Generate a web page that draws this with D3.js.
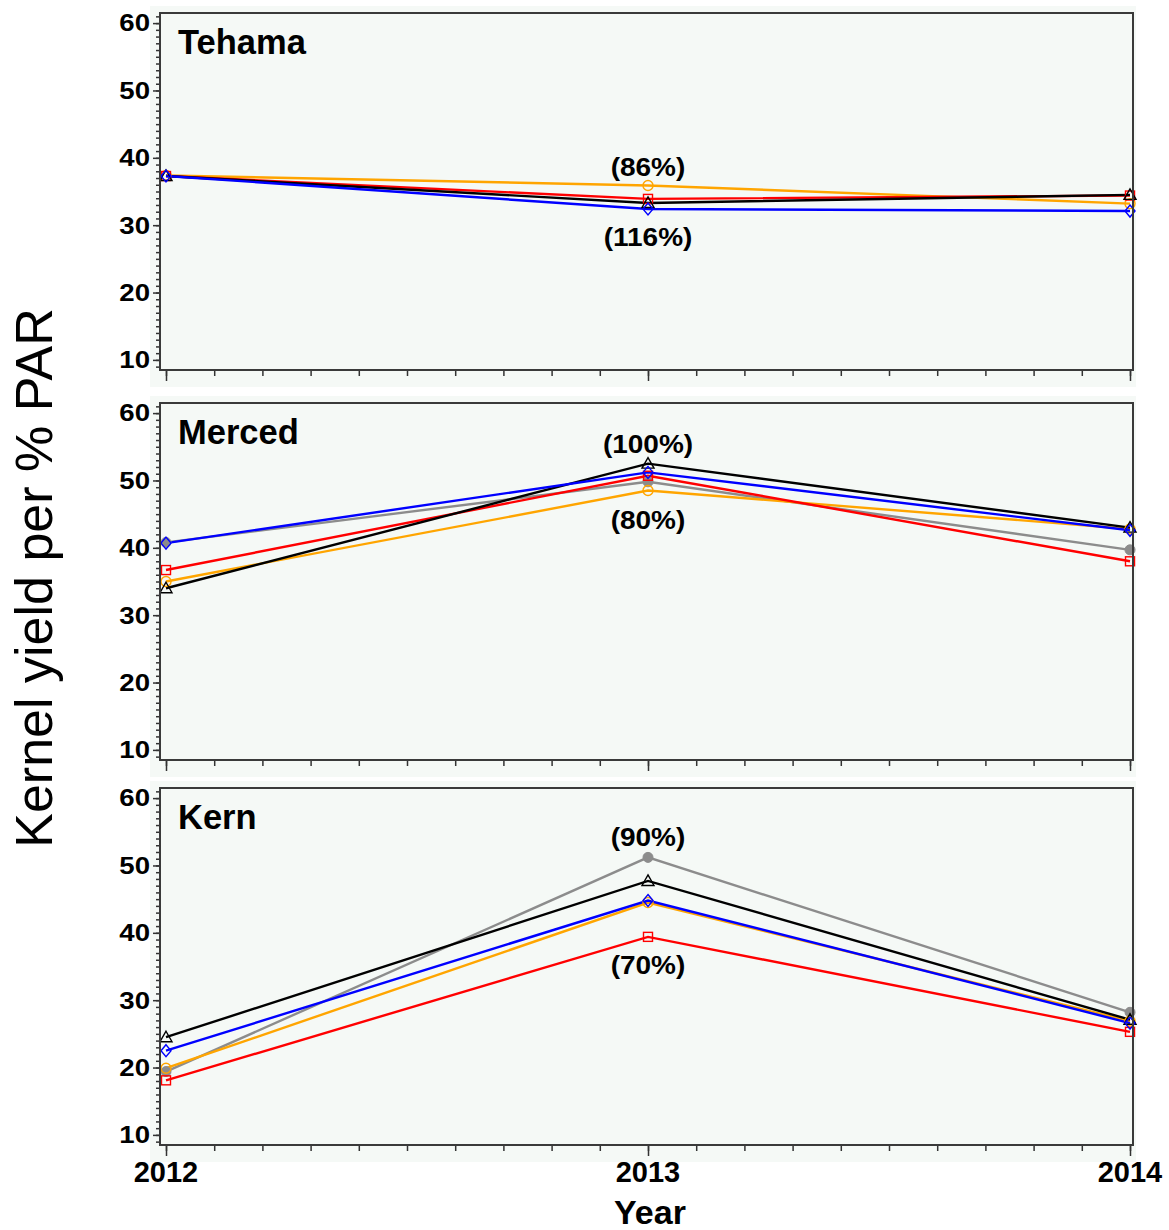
<!DOCTYPE html>
<html><head><meta charset="utf-8">
<script src="https://cdn.jsdelivr.net/npm/d3@7"></script>
<style>body{margin:0;background:#fff}svg{display:block}</style>
</head><body>
<script>
// ---- data ----
const years = [2012, 2013, 2014];
const sites = ["Tehama", "Merced", "Kern"];
const seriesNames = ["gray", "orange", "red", "black", "blue"];

const tehamaGray   = null;
const tehamaOrange = [37.4, 35.9, 33.2];
const tehamaRed    = [37.3, 33.9, 34.4];
const tehamaBlack  = [37.3, 33.3, 34.5];
const tehamaBlue   = [37.3, 32.4, 32.1];

const mercedGray   = [40.8, 49.8, 39.7];
const mercedOrange = [35.0, 48.5, 42.8];
const mercedRed    = [36.7, 50.7, 38.0];
const mercedBlack  = [34.0, 52.5, 43.0];
const mercedBlue   = [40.7, 51.2, 42.6];

const kernGray   = [19.4, 51.2, 28.2];
const kernOrange = [19.9, 44.5, 26.9];
const kernRed    = [18.1, 39.4, 25.3];
const kernBlack  = [24.5, 47.7, 27.1];
const kernBlue   = [22.5, 44.8, 26.6];

const yTickValues = [10, 20, 30, 40, 50, 60];
const annotationTexts = [["(86%)", "(116%)"], ["(100%)", "(80%)"], ["(90%)", "(70%)"]];
const annotationValues = [[38.6, 28.1], [55.4, 44.0], [54.1, 35.1]];

const siteSeries = [
  [tehamaGray, tehamaOrange, tehamaRed, tehamaBlack, tehamaBlue],
  [mercedGray, mercedOrange, mercedRed, mercedBlack, mercedBlue],
  [kernGray, kernOrange, kernRed, kernBlack, kernBlue]
];

// ---- style ----
const colors = {gray: "#8c8c8c", orange: "#ffa500", red: "#ff0000", black: "#000000", blue: "#0000ff"};
const W = 1169, H = 1230;
const frameL = 160, frameR = 1133, frameH = 357;
const frameTops = [13, 403, 788];

const svg = d3.select("body").append("svg").attr("width", W).attr("height", H)
  .style("font-family", "'Liberation Sans', Arial, sans-serif");

const x = d3.scaleLinear().domain([2012, 2014]).range([166, 1130]);

function marker(g, type, cx, cy, color) {
  if (type === "gray") {
    g.append("circle").attr("cx", cx).attr("cy", cy).attr("r", 5).attr("fill", color).attr("stroke", color);
  } else if (type === "orange") {
    g.append("circle").attr("cx", cx).attr("cy", cy).attr("r", 5).attr("fill", "none").attr("stroke", color).attr("stroke-width", 1.4);
  } else if (type === "red") {
    g.append("rect").attr("x", cx - 4.5).attr("y", cy - 4.5).attr("width", 9).attr("height", 9).attr("fill", "none").attr("stroke", color).attr("stroke-width", 1.4);
  } else if (type === "black") {
    g.append("path").attr("d", `M${cx},${cy-6}L${cx+6},${cy+4.5}L${cx-6},${cy+4.5}Z`).attr("fill", "none").attr("stroke", color).attr("stroke-width", 1.4);
  } else if (type === "blue") {
    g.append("path").attr("d", `M${cx},${cy-6}L${cx+5},${cy}L${cx},${cy+6}L${cx-5},${cy}Z`).attr("fill", "none").attr("stroke", color).attr("stroke-width", 1.4);
  }
}

sites.forEach((site, i) => {
  const T = frameTops[i];
  const y = d3.scaleLinear().domain([8.5, 61.5]).range([T + frameH, T]);
  const g = svg.append("g");

  // background
  g.append("rect").attr("x", 150).attr("y", T - 7).attr("width", frameR + 3 - 150).attr("height", frameH + 7 + 17)
    .attr("fill", "#f5f9f6");

  // y axis ticks
  const yAxis = d3.axisLeft(y).tickValues(d3.range(9, 62, 1)).tickSize(4).tickFormat("");
  g.append("g").attr("transform", `translate(${frameL},0)`).call(yAxis)
    .call(s => s.select(".domain").remove())
    .call(s => s.selectAll("line").attr("stroke", "#333").attr("stroke-width", 1.5));
  const yMajor = d3.axisLeft(y).tickValues(yTickValues).tickSize(7).tickFormat("");
  g.append("g").attr("transform", `translate(${frameL},0)`).call(yMajor)
    .call(s => s.select(".domain").remove())
    .call(s => s.selectAll("line").attr("stroke", "#333").attr("stroke-width", 1.5));
  yTickValues.forEach(v => {
    g.append("text").attr("transform", `translate(150,${y(v)}) scale(1.15,1)`)
      .attr("text-anchor", "end").attr("dominant-baseline", "central")
      .attr("font-size", 24).attr("font-weight", "bold").text(v);
  });

  // x axis ticks
  const xMinor = d3.axisBottom(x).tickValues(d3.range(0, 21).map(k => 2012 + k * 0.1)).tickSize(6).tickFormat("");
  g.append("g").attr("transform", `translate(0,${T + frameH})`).call(xMinor)
    .call(s => s.select(".domain").remove())
    .call(s => s.selectAll("line").attr("stroke", "#333").attr("stroke-width", 1.5));
  const xMajor = d3.axisBottom(x).tickValues(years).tickSize(11).tickFormat("");
  g.append("g").attr("transform", `translate(0,${T + frameH})`).call(xMajor)
    .call(s => s.select(".domain").remove())
    .call(s => s.selectAll("line").attr("stroke", "#333").attr("stroke-width", 1.5));

  // lines
  const line = d3.line().x((d, k) => x(years[k])).y(d => y(d));
  siteSeries[i].forEach((vals, s) => {
    if (!vals) return;
    const name = seriesNames[s];
    g.append("path").datum(vals).attr("d", line).attr("fill", "none")
      .attr("stroke", colors[name]).attr("stroke-width", 2.4);
  });
  siteSeries[i].forEach((vals, s) => {
    if (!vals) return;
    const name = seriesNames[s];
    vals.forEach((v, k) => marker(g, name, x(years[k]), y(v), colors[name]));
  });

  // frame
  g.append("rect").attr("x", frameL).attr("y", T).attr("width", frameR - frameL).attr("height", frameH)
    .attr("fill", "none").attr("stroke", "#3a3a3a").attr("stroke-width", 2);

  // site label
  g.append("text").attr("x", 178).attr("y", T + 41).attr("font-size", 34.5).attr("font-weight", "bold").text(site);

  // annotations
  annotationTexts[i].forEach((t, a) => {
    g.append("text").attr("transform", `translate(${x(2013)},${y(annotationValues[i][a])}) scale(1.12,1)`)
      .attr("text-anchor", "middle").attr("dominant-baseline", "central")
      .attr("font-size", 25).attr("font-weight", "bold").text(t);
  });
});

// x year labels
years.forEach(yr => {
  svg.append("text").attr("x", x(yr)).attr("y", 1182).attr("text-anchor", "middle")
    .attr("font-size", 29).attr("font-weight", "bold").text(yr);
});

svg.append("text").attr("x", 650).attr("y", 1224).attr("text-anchor", "middle")
  .attr("font-size", 34).attr("font-weight", "bold").text("Year");

svg.append("text").attr("transform", `translate(52,578) rotate(-90)`).attr("text-anchor", "middle")
  .attr("font-size", 52).text("Kernel yield per % PAR");
</script>
</body></html>
